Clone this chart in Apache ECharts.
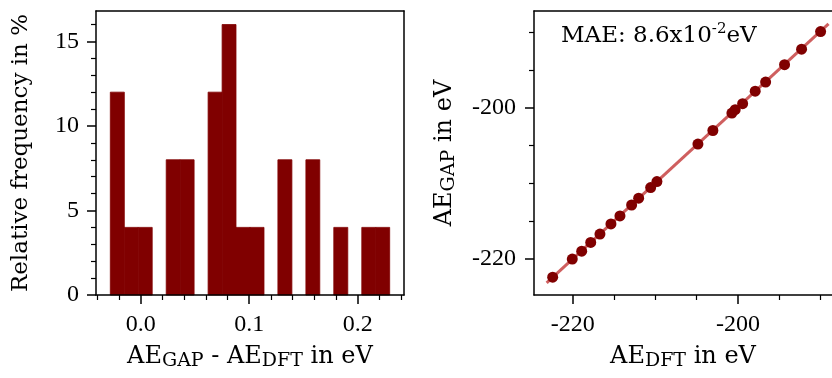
<!DOCTYPE html>
<html>
<head>
<meta charset="utf-8">
<script src="https://cdn.jsdelivr.net/npm/echarts@6/dist/echarts.min.js"></script>
<style>
  html, body { margin: 0; padding: 0; background: #fff; }
  #chart { width: 832px; height: 378px; }
</style>
</head>
<body>
<div id="chart"></div>
<script>
// Histogram of the energy difference (bin edges in eV, height in percent)
const binEdges = [-0.0280, -0.0151, -0.0023, 0.0106, 0.0235, 0.0363, 0.0492, 0.0621, 0.0750, 0.0878,
                  0.1007, 0.1136, 0.1264, 0.1393, 0.1522, 0.1650, 0.1779, 0.1908, 0.2037, 0.2165, 0.2294];
const binPercent = [12, 4, 4, 0, 8, 8, 0, 12, 16, 4, 4, 0, 8, 0, 8, 0, 4, 0, 4, 4];

const histTicksX = [0.0, 0.1, 0.2];
const histMinorTicksX = [-0.04, -0.02, 0.02, 0.04, 0.06, 0.08, 0.12, 0.14, 0.16, 0.18, 0.22, 0.24];
const histTicksY = [0, 5, 10, 15];
const histMinorTicksY = [1, 2, 3, 4, 6, 7, 8, 9, 11, 12, 13, 14, 16];

// Parity plot: DFT energies vs GAP energies (eV)
const dftEnergies = [-222.42, -220.05, -218.91, -217.82, -216.70, -215.37, -214.28, -212.87, -212.02, -210.57,
                     -209.81, -204.85, -203.04, -200.74, -200.34, -199.44, -197.92, -196.66, -194.37, -192.31, -190.01];
const gapEnergies = [-222.40, -220.00, -218.95, -217.80, -216.70, -215.35, -214.30, -212.85, -211.95, -210.55,
                     -209.75, -204.80, -203.00, -200.70, -200.25, -199.45, -197.80, -196.60, -194.30, -192.25, -189.92];
const fitLineX = [-223.15, -189.05];
const fitLineY = [-223.15, -188.90];

const parityTicks = [-220, -200];
const parityMinorTicks = [-215, -210, -205, -195, -190];

const maeLabel = 'MAE: 8.6x10{sup|-2}eV';

const TITLE_FONT = 'DejaVu Serif';
const TICK_FONT = 'Liberation Serif';
const DARK_RED = '#800000';
const AXIS_LINE = { show: true, onZero: false, lineStyle: { color: '#000', width: 1.5 } };

function titleStyle(size) {
  return {
    fontFamily: TITLE_FONT, fontSize: size, lineHeight: size + 5, color: '#000',
    rich: { sub: { fontFamily: TITLE_FONT, fontSize: Math.round(size * 0.78), lineHeight: Math.round(size * 0.78),
                   verticalAlign: 'bottom', color: '#000' } }
  };
}

function tickLabels(values, margin, formatter) {
  const lbl = { show: true, fontFamily: TICK_FONT, fontSize: 24, color: '#000', margin: margin, customValues: values };
  if (formatter) lbl.formatter = formatter;
  return lbl;
}

function majorAxis(opts, ticks) {
  return Object.assign({
    type: 'value',
    nameLocation: 'middle',
    nameTextStyle: titleStyle(23),
    axisLine: AXIS_LINE,
    axisTick: { show: true, inside: false, length: 9, customValues: ticks, lineStyle: { color: '#000', width: 1.5 } },
    splitLine: { show: false },
    z: 5
  }, opts);
}

function minorAxis(opts, ticks) {
  return Object.assign({
    type: 'value',
    axisLine: { show: false, onZero: false },
    axisTick: { show: true, inside: false, length: 5, customValues: ticks, lineStyle: { color: '#000', width: 1.2 } },
    axisLabel: { show: false },
    splitLine: { show: false },
    z: 5
  }, opts);
}

// plain frame edge (no ticks, no labels)
function edgeAxis(opts) {
  return Object.assign({
    type: 'value',
    axisLine: AXIS_LINE,
    axisTick: { show: false },
    axisLabel: { show: false },
    splitLine: { show: false },
    z: 5
  }, opts);
}

const histData = binPercent.map((v, i) => [binEdges[i], binEdges[i + 1], v]).filter(d => d[2] > 0);
const parityData = dftEnergies.map((x, i) => [x, gapEnergies[i]]);
const fitData = fitLineX.map((x, i) => [x, fitLineY[i]]);

const HX = [-0.0412, 0.2426], HY = [0, 16.8];
const PX = [-224.68, -188.63], PY = [-224.75, -187.2];

const chart = echarts.init(document.getElementById('chart'), null, { renderer: 'canvas' });
chart.setOption({
  animation: false,
  backgroundColor: '#fff',
  grid: [
    { left: 96, top: 11, width: 308, height: 284 },
    { left: 534, top: 11, right: 0, height: 284 }
  ],
  xAxis: [
    majorAxis({
      gridIndex: 0, min: HX[0], max: HX[1], position: 'bottom',
      name: 'AE{sub|GAP} - AE{sub|DFT} in eV', nameGap: 42, nameTextStyle: titleStyle(24),
      axisLabel: tickLabels(histTicksX, 18, v => v.toFixed(1))
    }, histTicksX),
    minorAxis({ gridIndex: 0, min: HX[0], max: HX[1], position: 'bottom' }, histMinorTicksX),
    edgeAxis({ gridIndex: 0, min: HX[0], max: HX[1], position: 'top' }),
    majorAxis({
      gridIndex: 1, min: PX[0], max: PX[1], position: 'bottom',
      name: 'AE{sub|DFT} in eV', nameGap: 42, nameTextStyle: titleStyle(24),
      axisLabel: tickLabels(parityTicks, 18)
    }, parityTicks),
    minorAxis({ gridIndex: 1, min: PX[0], max: PX[1], position: 'bottom' }, parityMinorTicks),
    edgeAxis({ gridIndex: 1, min: PX[0], max: PX[1], position: 'top' })
  ],
  yAxis: [
    majorAxis({
      gridIndex: 0, min: HY[0], max: HY[1], position: 'left',
      name: 'Relative frequency in %', nameGap: 61,
      axisLabel: tickLabels(histTicksY, 17)
    }, histTicksY),
    minorAxis({ gridIndex: 0, min: HY[0], max: HY[1], position: 'left' }, histMinorTicksY),
    edgeAxis({ gridIndex: 0, min: HY[0], max: HY[1], position: 'right' }),
    majorAxis({
      gridIndex: 1, min: PY[0], max: PY[1], position: 'left',
      name: 'AE{sub|GAP} in eV', nameGap: 75, nameTextStyle: titleStyle(24),
      axisLabel: tickLabels(parityTicks, 18)
    }, parityTicks),
    minorAxis({ gridIndex: 1, min: PY[0], max: PY[1], position: 'left' }, parityMinorTicks)
  ],
  graphic: [{
    type: 'text', left: 561, top: 22, z: 10,
    style: {
      text: maeLabel, fontFamily: TITLE_FONT, fontSize: 23, lineHeight: 28, fill: '#000',
      rich: { sup: { fontFamily: TITLE_FONT, fontSize: 15, lineHeight: 15, verticalAlign: 'top', fill: '#000' } }
    }
  }],
  series: [
    {
      type: 'custom', xAxisIndex: 0, yAxisIndex: 0, data: histData,
      encode: { x: [0, 1], y: 2 },
      renderItem: (params, api) => {
        const top = api.coord([api.value(0), api.value(2)]);
        const bottom = api.coord([api.value(1), 0]);
        return {
          type: 'rect',
          shape: { x: top[0], y: top[1], width: bottom[0] - top[0], height: bottom[1] - top[1] },
          style: { fill: DARK_RED, stroke: DARK_RED, lineWidth: 0.8 }
        };
      }
    },
    {
      type: 'line', xAxisIndex: 3, yAxisIndex: 3, data: fitData,
      symbol: 'none', lineStyle: { color: '#cf5f5f', width: 3 }, z: 2
    },
    {
      type: 'scatter', xAxisIndex: 3, yAxisIndex: 3, data: parityData,
      symbol: 'circle', symbolSize: 11, itemStyle: { color: DARK_RED, opacity: 1 }, z: 3
    }
  ]
});
</script>
</body>
</html>
